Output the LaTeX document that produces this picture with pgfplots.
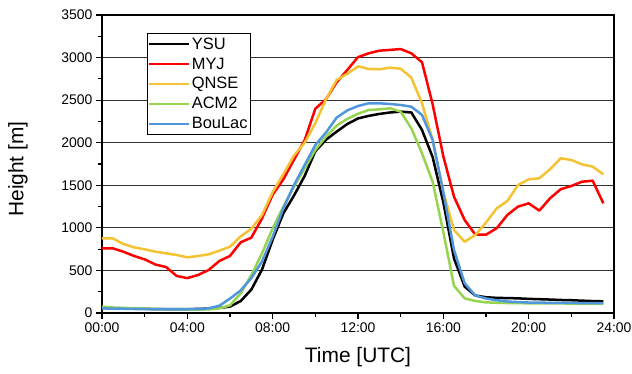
\documentclass[border=0pt]{standalone}
\usepackage{pgfplots}
\pgfplotsset{compat=1.18}
\usepackage{fontspec}
\setmainfont{Liberation Sans}
\definecolor{cyel}{RGB}{244,194,50}
\definecolor{cgrn}{RGB}{150,212,80}
\definecolor{cblu}{RGB}{80,150,220}
\definecolor{cred}{RGB}{255,0,0}
\begin{document}
\begin{tikzpicture}
\useasboundingbox (-102bp,-61bp) rectangle (530bp,313bp);
\begin{axis}[
  at={(0,0)}, anchor=south west,
  scale only axis, width=512bp, height=298bp,
  xmin=0, xmax=24, ymin=0, ymax=3500,
  xtick={0,4,...,24},
  xticklabels={00:00,04:00,08:00,12:00,16:00,20:00,24:00},
  minor x tick num=1,
  ytick={0,500,...,3500},
  minor y tick num=1,
  ymajorgrids,
  tick align=outside,
  xtick pos=bottom, ytick pos=left,
  major tick length=6bp, minor tick length=3.5bp,
  axis line style={line width=1.5bp},
  every tick/.style={black, line width=1.1bp},
  grid style={black!80, line width=0.8bp},
  /pgf/number format/assume math mode=true,
  /pgf/number format/1000 sep={},
  tick label style={font=\fontsize{14}{16}\selectfont},
  xlabel={Time [UTC]}, ylabel={Height [m]},
  label style={font=\fontsize{21}{24}\selectfont},
  xlabel style={at={(axis description cs:0.5,-0.148)}, anchor=center},
  ylabel style={at={(axis description cs:-0.164,0.483)}, anchor=center},
  legend style={at={(0.087,0.94)}, anchor=north west, draw=black, line width=0.8bp,
    font=\fontsize{16.5}{18}\selectfont, row sep=3bp, inner xsep=0.5bp, inner ysep=2.5bp},
  legend cell align=left,
  legend image code/.code={\draw[#1, line width=2.4bp] (0bp,0bp) -- (40bp,0bp);},
  every axis plot/.append style={line width=2.5bp, line join=round},
]
\addplot[black] coordinates {
(0,60)(0.5,55)(1,52)(1.5,50)(2,48)(2.5,46)(3,45)(3.5,45)(4,45)(4.5,48)(5,52)(5.5,60)
(6,75)(6.5,140)(7,275)(7.5,510)(8,860)(8.5,1170)(9,1380)(9.5,1610)(10,1900)(10.5,2035)
(11,2130)(11.5,2220)(12,2285)(12.5,2315)(13,2338)(13.5,2355)(14,2365)(14.5,2355)
(15,2150)(15.5,1830)(16,1300)(16.5,640)(17,310)(17.5,205)(18,185)(18.5,178)(19,175)
(19.5,172)(20,166)(20.5,162)(21,158)(21.5,153)(22,150)(22.5,145)(23,140)(23.5,137)};
\addlegendentry{YSU}
\addplot[cred] coordinates {
(0,760)(0.5,760)(1,720)(1.5,670)(2,630)(2.5,570)(3,540)(3.5,435)(4,410)(4.5,446)(5,505)
(5.5,611)(6,670)(6.5,830)(7,885)(7.5,1110)(8,1390)(8.5,1570)(9,1800)(9.5,2030)(10,2400)
(10.5,2510)(11,2710)(11.5,2855)(12,3005)(12.5,3050)(13,3081)(13.5,3090)(14,3100)
(14.5,3050)(15,2945)(15.5,2450)(16,1840)(16.5,1366)(17,1092)(17.5,920)(18,920)(18.5,995)
(19,1151)(19.5,1250)(20,1288)(20.5,1202)(21,1347)(21.5,1453)(22,1492)(22.5,1542)
(23,1554)(23.5,1288)};
\addlegendentry{MYJ}
\addplot[cyel] coordinates {
(0,877)(0.5,877)(1,810)(1.5,771)(2,748)(2.5,720)(3,701)(3.5,681)(4,654)(4.5,669)(5,689)
(5.5,732)(6,779)(6.5,900)(7,990)(7.5,1150)(8,1420)(8.5,1630)(9,1850)(9.5,2000)(10,2230)
(10.5,2510)(11,2737)(11.5,2810)(12,2897)(12.5,2866)(13,2862)(13.5,2881)(14,2869)
(14.5,2764)(15,2463)(15.5,2032)(16,1420)(16.5,975)(17,837)(17.5,916)(18,1061)(18.5,1229)
(19,1315)(19.5,1503)(20,1570)(20.5,1582)(21,1688)(21.5,1817)(22,1797)(22.5,1746)
(23,1719)(23.5,1629)};
\addlegendentry{QNSE}
\addplot[cgrn] coordinates {
(0,74)(0.5,65)(1,60)(1.5,57)(2,53)(2.5,48)(3,45)(3.5,42)(4,40)(4.5,40)(5,42)(5.5,55)
(6,90)(6.5,230)(7,446)(7.5,700)(8,994)(8.5,1249)(9,1484)(9.5,1699)(10,1915)(10.5,2071)
(11,2200)(11.5,2280)(12,2340)(12.5,2384)(13,2392)(13.5,2404)(14,2365)(14.5,2169)
(15,1876)(15.5,1540)(16,950)(16.5,320)(17,172)(17.5,141)(18,125)(18.5,120)(19,117)
(19.5,115)(20,114)(20.5,113)(21,112)(21.5,112)(22,111)(22.5,110)(23,110)(23.5,108)};
\addlegendentry{ACM2}
\addplot[cblu] coordinates {
(0,55)(0.5,50)(1,50)(1.5,48)(2,47)(2.5,45)(3,44)(3.5,44)(4,44)(4.5,45)(5,55)(5.5,85)
(6,170)(6.5,265)(7,410)(7.5,605)(8,896)(8.5,1229)(9,1503)(9.5,1738)(10,1973)(10.5,2120)
(11,2295)(11.5,2380)(12,2431)(12.5,2463)(13,2463)(13.5,2455)(14,2443)(14.5,2423)
(15,2326)(15.5,2032)(16,1420)(16.5,740)(17,349)(17.5,205)(18,170)(18.5,150)(19,135)
(19.5,128)(20,123)(20.5,121)(21,120)(21.5,119)(22,118)(22.5,117)(23,116)(23.5,115)};
\addlegendentry{BouLac}
\end{axis}
\end{tikzpicture}
\end{document}
